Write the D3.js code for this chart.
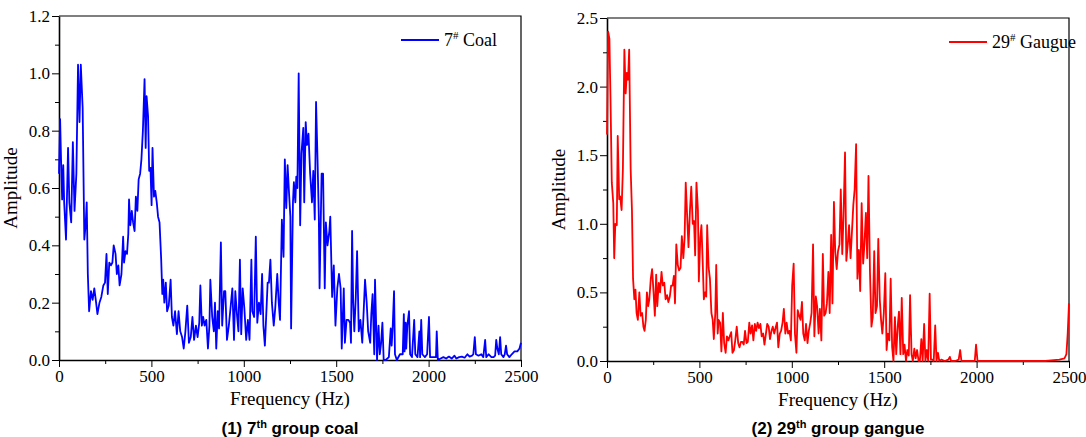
<!DOCTYPE html>
<html>
<head>
<meta charset="utf-8">
<script src="https://cdn.jsdelivr.net/npm/d3@7"></script>
<style>
  html, body { margin: 0; padding: 0; background: #fff; }
</style>
</head>
<body>
<svg id="chart" width="1086" height="437"></svg>
<script>
// spectrum of 7# coal (Hz / amplitude)
const coalFreq = [0,6,11,17,23,28,38,49,56,66,75,84,94,103,111,118,128,137,144,150,156,163,173,182,191,199,208,219,229,240,249,257,264,272,281,289,296,306,313,321,328,338,347,352,360,368,375,379,386,394,401,409,416,424,431,439,446,454,463,469,474,482,488,495,501,506,514,521,529,536,544,553,559,564,570,578,585,594,604,611,619,628,638,647,656,666,675,684,694,703,713,722,731,741,750,759,765,773,780,788,797,806,814,819,829,838,844,851,859,866,876,883,893,900,909,919,928,938,947,954,964,971,979,986,994,1003,1013,1022,1031,1041,1046,1056,1065,1073,1082,1091,1099,1106,1114,1121,1129,1136,1144,1152,1162,1170,1181,1189,1196,1206,1215,1222,1230,1237,1245,1252,1256,1266,1271,1279,1284,1290,1297,1305,1312,1322,1327,1335,1342,1350,1359,1369,1376,1384,1391,1399,1406,1410,1421,1429,1438,1444,1453,1463,1468,1478,1487,1496,1506,1515,1524,1530,1541,1547,1556,1566,1575,1580,1586,1592,1598,1606,1613,1622,1631,1641,1648,1656,1665,1673,1684,1690,1697,1706,1710,1721,1729,1736,1743,1750,1757,1768,1785,1795,1800,1806,1813,1818,1828,1845,1860,1866,1870,1876,1879,1885,1894,1900,1910,1922,1928,1940,1950,1954,1960,1966,1980,1992,2002,2008,2025,2040,2044,2050,2065,2080,2095,2110,2125,2140,2150,2165,2180,2195,2210,2222,2235,2242,2250,2256,2270,2285,2296,2306,2312,2325,2340,2352,2360,2366,2372,2380,2387,2393,2405,2412,2419,2425,2437,2450,2465,2480,2492,2500];
const coalAmp = [0.65,0.84,0.70,0.56,0.68,0.55,0.42,0.74,0.55,0.48,0.76,0.52,0.65,1.03,0.83,1.03,0.88,0.42,0.47,0.55,0.30,0.17,0.24,0.21,0.25,0.21,0.16,0.20,0.22,0.26,0.27,0.37,0.23,0.34,0.33,0.34,0.40,0.37,0.30,0.33,0.26,0.30,0.43,0.34,0.38,0.37,0.44,0.56,0.47,0.52,0.48,0.45,0.57,0.52,0.63,0.65,0.70,0.80,0.98,0.74,0.92,0.85,0.66,0.67,0.54,0.74,0.57,0.59,0.55,0.50,0.48,0.35,0.23,0.28,0.20,0.27,0.17,0.19,0.28,0.15,0.12,0.17,0.09,0.17,0.10,0.08,0.04,0.10,0.19,0.06,0.08,0.15,0.07,0.12,0.08,0.13,0.26,0.12,0.15,0.12,0.14,0.04,0.12,0.28,0.15,0.10,0.20,0.04,0.17,0.11,0.41,0.12,0.24,0.24,0.07,0.12,0.18,0.25,0.07,0.24,0.15,0.10,0.35,0.09,0.25,0.18,0.07,0.14,0.07,0.35,0.17,0.15,0.43,0.13,0.20,0.16,0.30,0.12,0.05,0.15,0.27,0.27,0.35,0.20,0.12,0.18,0.30,0.20,0.14,0.49,0.36,0.70,0.53,0.68,0.58,0.50,0.11,0.55,0.62,0.55,0.64,0.60,1.00,0.47,0.72,0.81,0.55,0.83,0.75,0.79,0.65,0.55,0.66,0.49,0.90,0.70,0.50,0.25,0.65,0.65,0.25,0.48,0.40,0.45,0.50,0.22,0.33,0.12,0.25,0.30,0.25,0.04,0.25,0.06,0.14,0.14,0.13,0.06,0.45,0.20,0.10,0.22,0.38,0.10,0.14,0.06,0.16,0.28,0.20,0.10,0.06,0.16,0.23,0.02,0.28,0.00,0.12,0.02,0.06,0.13,0.00,0.00,0.01,0.11,0.05,0.12,0.24,0.02,0.00,0.02,0.02,0.16,0.03,0.13,0.04,0.12,0.17,0.02,0.01,0.14,0.02,0.01,0.10,0.01,0.14,0.02,0.01,0.02,0.15,0.01,0.01,0.01,0.10,0.00,0.005,0.01,0.005,0.012,0.005,0.015,0.005,0.01,0.012,0.008,0.02,0.012,0.015,0.02,0.08,0.02,0.015,0.02,0.01,0.07,0.01,0.02,0.01,0.01,0.015,0.07,0.04,0.02,0.08,0.02,0.01,0.02,0.05,0.02,0.01,0.02,0.03,0.03,0.04,0.06];

// spectrum of 29# gangue (Hz / amplitude)
const gangueFreq = [0,6,13,19,26,34,39,45,53,58,66,71,79,86,94,101,107,114,120,128,135,141,148,154,160,167,175,182,190,197,203,210,216,223,229,237,244,252,259,266,272,280,287,295,302,310,317,325,332,340,347,355,362,368,375,383,390,398,405,413,420,426,434,441,449,456,464,471,477,484,492,497,505,511,518,524,531,537,542,550,557,565,572,578,586,591,599,604,612,619,627,634,642,649,657,664,672,679,687,694,702,710,717,725,732,740,747,755,762,770,777,785,792,800,807,815,822,830,837,845,852,860,867,875,882,890,897,905,912,920,927,935,942,950,957,965,972,980,987,995,1002,1010,1017,1025,1032,1040,1047,1055,1062,1070,1077,1085,1092,1100,1107,1115,1122,1130,1137,1145,1152,1160,1168,1175,1183,1190,1198,1205,1213,1220,1228,1235,1243,1250,1258,1265,1273,1280,1288,1295,1303,1310,1318,1325,1333,1340,1348,1355,1363,1370,1378,1386,1393,1401,1408,1415,1423,1431,1438,1446,1453,1461,1468,1476,1483,1490,1498,1506,1513,1520,1528,1535,1543,1550,1558,1565,1573,1580,1588,1595,1603,1610,1618,1625,1633,1640,1648,1655,1663,1670,1678,1686,1693,1701,1708,1716,1723,1731,1738,1746,1753,1761,1768,1776,1783,1791,1798,1809,1828,1847,1855,1862,1885,1903,1911,1918,1960,1990,1997,2005,2091,2279,2373,2448,2476,2486,2493,2500];
const gangueAmp = [1.65,2.40,2.35,1.90,1.30,1.15,0.75,1.00,0.99,1.64,1.18,1.20,1.10,1.40,2.27,1.95,2.10,2.05,2.27,1.40,1.10,0.60,0.45,0.52,0.35,0.30,0.50,0.33,0.35,0.25,0.22,0.30,0.50,0.40,0.45,0.60,0.67,0.50,0.33,0.63,0.40,0.57,0.50,0.65,0.55,0.57,0.45,0.48,0.43,0.47,0.55,0.55,0.62,0.42,0.85,0.70,0.66,0.68,0.91,0.75,0.90,1.30,1.05,0.83,1.10,1.27,1.00,1.02,0.77,1.30,1.10,0.58,0.90,0.99,0.72,0.45,0.50,0.47,0.99,0.68,0.60,0.35,0.30,0.16,0.35,0.70,0.20,0.30,0.28,0.07,0.35,0.13,0.06,0.18,0.15,0.18,0.21,0.06,0.08,0.15,0.25,0.13,0.10,0.14,0.14,0.12,0.22,0.13,0.14,0.28,0.20,0.26,0.15,0.27,0.22,0.28,0.24,0.27,0.18,0.20,0.12,0.20,0.27,0.25,0.16,0.22,0.25,0.20,0.24,0.28,0.10,0.20,0.22,0.28,0.38,0.20,0.28,0.20,0.22,0.15,0.55,0.71,0.20,0.06,0.37,0.33,0.30,0.43,0.20,0.15,0.27,0.13,0.22,0.28,0.35,0.85,0.18,0.47,0.40,0.20,0.38,0.15,0.78,0.33,0.35,0.42,0.65,0.35,0.92,0.42,1.16,0.80,0.67,0.80,0.85,1.25,0.78,1.06,1.52,0.73,0.85,0.99,0.75,0.93,1.14,1.25,1.58,0.60,0.81,0.51,1.15,0.71,0.85,1.08,0.75,1.35,0.65,0.25,0.32,0.80,0.35,0.40,0.89,0.45,0.30,0.20,0.35,0.64,0.08,0.20,0.15,0.60,0.10,0.00,0.32,0.05,0.25,0.36,0.05,0.46,0.05,0.12,0.00,0.08,0.04,0.48,0.05,0.00,0.09,0.02,0.08,0.00,0.00,0.16,0.00,0.27,0.00,0.08,0.00,0.49,0.01,0.01,0.00,0.26,0.00,0.06,0.00,0.01,0.00,0.01,0.03,0.00,0.00,0.01,0.08,0.00,0.00,0.00,0.12,0.00,0.00,0.00,0.00,0.01,0.02,0.05,0.20,0.42];

const xTicks = [0, 500, 1000, 1500, 2000, 2500];
const coalYTicks = [0, 0.2, 0.4, 0.6, 0.8, 1.0, 1.2];
const gangueYTicks = [0, 0.5, 1.0, 1.5, 2.0, 2.5];
const legendNames = [["7", "#", " Coal"], ["29", "#", " Gaugue"]];
const captions = [["(1) 7", "th", " group coal"], ["(2) 29", "th", " group gangue"]];

const SERIF = "'Liberation Serif', 'Times New Roman', serif";
const SANS = "'Liberation Sans', Arial, sans-serif";

const svg = d3.select("#chart");

function drawPanel(svg, { left, right, top, bottom, freq, amp, yMax, yTicks, color, legend, caption }) {
  const g = svg.append("g");
  const x = d3.scaleLinear().domain([0, 2500]).range([left, right]);
  const y = d3.scaleLinear().domain([0, yMax]).range([bottom, top]);

  // minor ticks halfway between the majors
  const xMinor = d3.range(250, 2500, 500);
  const yStep = yTicks[1] - yTicks[0];
  const yMinor = d3.range(yStep / 2, yMax, yStep);

  // x axis
  g.append("g")
    .attr("transform", `translate(0,${bottom})`)
    .call(d3.axisBottom(x).tickValues(xMinor).tickSize(4).tickFormat(""))
    .call((a) => a.select(".domain").remove());
  g.append("g")
    .attr("transform", `translate(0,${bottom})`)
    .call(d3.axisBottom(x).tickValues(xTicks).tickSize(7).tickSizeOuter(0).tickPadding(3).tickFormat(d3.format("d")))
    .call((a) => a.select(".domain").attr("stroke-width", 1.6))
    .selectAll("text")
    .style("font-family", SERIF)
    .style("font-size", "17px")
    .style("fill", "#000");

  // y axis
  g.append("g")
    .attr("transform", `translate(${left},0)`)
    .call(d3.axisLeft(y).tickValues(yMinor).tickSize(4).tickFormat(""))
    .call((a) => a.select(".domain").remove());
  g.append("g")
    .attr("transform", `translate(${left},0)`)
    .call(d3.axisLeft(y).tickValues(yTicks).tickSize(7).tickSizeOuter(0).tickPadding(2).tickFormat(d3.format(".1f")))
    .call((a) => a.select(".domain").attr("stroke-width", 1.6))
    .selectAll("text")
    .style("font-family", SERIF)
    .style("font-size", "17px")
    .style("fill", "#000");

  // top / right frame
  g.append("path")
    .attr("d", `M${left},${top}H${right}V${bottom}`)
    .attr("fill", "none")
    .attr("stroke", "#000")
    .attr("stroke-width", 1.2);

  // spectrum line
  const data = freq.map((f, i) => [f, amp[i]]);
  g.append("path")
    .datum(data)
    .attr("fill", "none")
    .attr("stroke", color)
    .attr("stroke-width", 1.8)
    .attr("stroke-linejoin", "round")
    .attr("d", d3.line().x((d) => x(d[0])).y((d) => y(d[1])));

  // axis titles
  g.append("text")
    .attr("x", (left + right) / 2)
    .attr("y", bottom + 45)
    .attr("text-anchor", "middle")
    .style("font-family", SERIF)
    .style("font-size", "19px")
    .text("Frequency (Hz)");
  g.append("text")
    .attr("transform", `translate(${left - 42},${(top + bottom) / 2}) rotate(-90)`)
    .attr("text-anchor", "middle")
    .style("font-family", SERIF)
    .style("font-size", "19px")
    .text("Amplitude");

  // legend
  const lx = right - 120;
  const ly = top + 24;
  g.append("line")
    .attr("x1", lx).attr("x2", lx + 38)
    .attr("y1", ly).attr("y2", ly)
    .attr("stroke", color)
    .attr("stroke-width", 1.8);
  const lt = g.append("text")
    .attr("x", lx + 43)
    .attr("y", ly + 6)
    .style("font-family", SERIF)
    .style("font-size", "18px");
  lt.append("tspan").text(legend[0]);
  lt.append("tspan").attr("dy", -7).style("font-size", "11px").text(legend[1]);
  lt.append("tspan").attr("dy", 7).text(legend[2]);

  // caption below the panel
  const ct = g.append("text")
    .attr("x", (left + right) / 2)
    .attr("y", 434)
    .attr("text-anchor", "middle")
    .style("font-family", SANS)
    .style("font-weight", "bold")
    .style("font-size", "17px");
  ct.append("tspan").text(caption[0]);
  ct.append("tspan").attr("dy", -6).style("font-size", "11px").text(caption[1]);
  ct.append("tspan").attr("dy", 6).text(caption[2]);
}

drawPanel(svg, {
  left: 59, right: 521, top: 16, bottom: 360,
  freq: coalFreq, amp: coalAmp, yMax: 1.2, yTicks: coalYTicks,
  color: "#0000ff", legend: legendNames[0], caption: captions[0],
});

drawPanel(svg, {
  left: 607, right: 1069, top: 18, bottom: 361,
  freq: gangueFreq, amp: gangueAmp, yMax: 2.5, yTicks: gangueYTicks,
  color: "#ff0000", legend: legendNames[1], caption: captions[1],
});
</script>
</body>
</html>
